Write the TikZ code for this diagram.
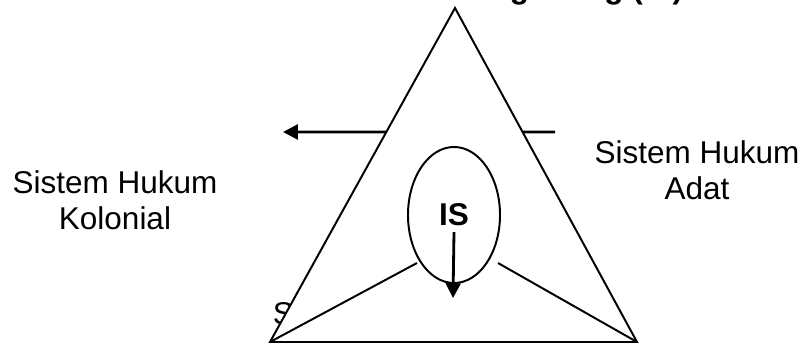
\documentclass[tikz,border=0pt]{standalone}
\usepackage{fontspec}
\setmainfont{Liberation Sans}
\usetikzlibrary{arrows.meta, shapes.geometric, calc}

\tikzset{
  lbl/.style={align=center, font=\fontsize{22.4}{25.8}\selectfont},
  boldlbl/.style={font=\fontsize{22.4}{25.8}\selectfont\bfseries},
  arr/.style={line width=2pt, -{Triangle[length=10.5pt, width=10.5pt]}},
  edge/.style={line width=1.4pt},
}

\begin{document}
\begin{tikzpicture}[x=0.025cm, y=-0.025cm]
  \useasboundingbox (0,0) rectangle (808,346);
  % corners of the triangle
  \coordinate (top) at (455,8);
  \coordinate (bl) at (270,342);
  \coordinate (br) at (637,342);

  % labels
  \node[boldlbl, anchor=base east] (judul) at (688,-1) {Sistem Hukum Bergabung (IS)};
  \node[lbl] (adat) at (697,170) {Sistem Hukum\\Adat};
  \node[lbl] (kolonial) at (115,200) {Sistem Hukum\\Kolonial};
  \node[lbl, anchor=base west] (islam) at (268,325) {Sistem Hukum Islam};

  % lines out of the triangle
  \coordinate (kol) at (283,132);
  \coordinate (adt) at (555,132);
  \draw[arr] ($(top)!0.371!(bl)$) -- (kol);
  \draw[line width=2pt] ($(top)!0.371!(br)$) -- (adt);

  % triangle, white inside
  \draw[edge, fill=white, line join=miter] (top) -- (bl) -- (br) -- cycle;

  % ellipse in the middle
  \node[draw, ellipse, edge, fill=white, inner sep=0pt, minimum width=2.3cm,
        minimum height=3.4cm, boldlbl] (is) at (454,215) {IS};
  \coordinate (lft) at (417,263);
  \coordinate (rgt) at (498,263);
  \coordinate (bawah) at (453,298);
  \draw[edge] (bl) -- (lft);
  \draw[edge] (br) -- (rgt);
  \draw[arr] ([yshift=-0.43cm]is.center) -- (bawah);
\end{tikzpicture}
\end{document}
